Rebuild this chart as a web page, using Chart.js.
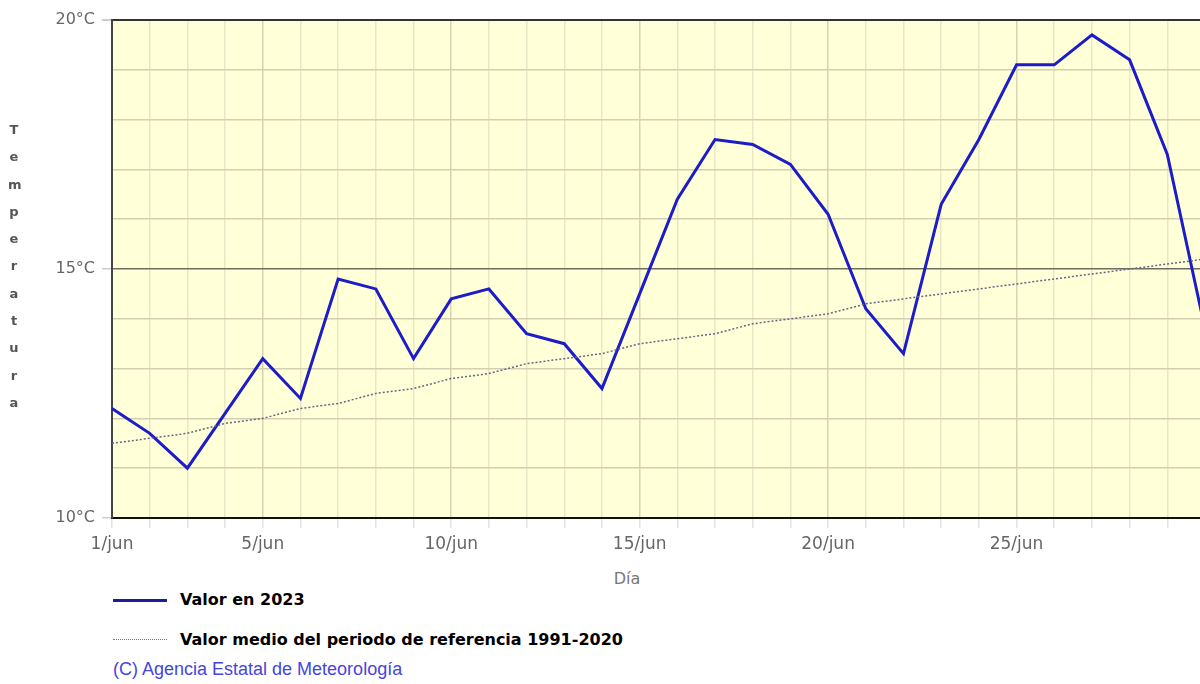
<!doctype html>
<html lang="es">
<head>
  <meta charset="utf-8">
  <title>Temperatura junio 2023</title>
  <script src="https://cdn.jsdelivr.net/npm/chart.js@4"></script>
  <style>
    html, body { margin: 0; padding: 0; background: #fff; overflow: hidden; }
    body { width: 1200px; height: 684px; position: relative; }
    #wrap { position: absolute; left: 0; top: 0; width: 1235px; height: 560px; }
    .ytitle {
      position: absolute; left: 8px; top: 116px; width: 12px;
      font: bold 13px "DejaVu Sans", sans-serif; color: #555;
      line-height: 27.3px; text-align: center; word-break: break-all;
    }
    .xtitle {
      position: absolute; left: 597px; width: 60px; top: 569px; text-align: center;
      font: 16px "DejaVu Sans", sans-serif; color: #777;
    }
    .leg { position: absolute; left: 113px; height: 20px; }
    .leg .sample { position: absolute; left: 0; top: 9px; width: 54px; }
    .leg .txt {
      position: absolute; left: 67px; top: 0; white-space: nowrap;
      font: bold 16px "DejaVu Sans", sans-serif; color: #000; line-height: 20px;
    }
    .copy {
      position: absolute; left: 113px; top: 659px; white-space: nowrap;
      font: 18px "Liberation Sans", Arial, sans-serif; color: #4545dd;
    }
  </style>
</head>
<body>
<div id="wrap"><canvas id="chart" width="1235" height="560"></canvas></div>

<div class="ytitle">Temperatura</div>
<div class="xtitle">Día</div>

<div class="leg" style="top:590px">
  <div class="sample" style="border-top:3px solid #1c1c9c"></div>
  <div class="txt">Valor en 2023</div>
</div>
<div class="leg" style="top:630px">
  <div class="sample" style="border-top:1px dotted #6a6ad8"></div>
  <div class="txt">Valor medio del periodo de referencia 1991-2020</div>
</div>
<div class="copy">(C) Agencia Estatal de Meteorología</div>

<script>
  // días de junio
  const days = [1, 2, 3, 4, 5, 6, 7, 8, 9, 10, 11, 12, 13, 14, 15,
                16, 17, 18, 19, 20, 21, 22, 23, 24, 25, 26, 27, 28, 29, 30]

  // temperatura media diaria 2023 (°C)
  const temp2023 = [12.2, 11.7, 11.0, 12.1, 13.2, 12.4, 14.8, 14.6, 13.2, 14.4,
                    14.6, 13.7, 13.5, 12.6, 14.5, 16.4, 17.6, 17.5, 17.1, 16.1,
                    14.2, 13.3, 16.3, 17.6, 19.1, 19.1, 19.7, 19.2, 17.3, 13.8]

  // valor medio 1991-2020 (°C)
  const tempRef = [11.5, 11.6, 11.7, 11.9, 12.0, 12.2, 12.3, 12.5, 12.6, 12.8,
                   12.9, 13.1, 13.2, 13.3, 13.5, 13.6, 13.7, 13.9, 14.0, 14.1,
                   14.3, 14.4, 14.5, 14.6, 14.7, 14.8, 14.9, 15.0, 15.1, 15.2]

  const yMin = 10, yMax = 20
  const yLabelled = [10, 15, 20]
  const xLabelled = [1, 5, 10, 15, 20, 25]

  const plotBg = {
    id: 'plotBg',
    beforeDraw(chart) {
      const { ctx, chartArea: a } = chart
      ctx.save()
      ctx.fillStyle = '#ffffd8'
      ctx.fillRect(a.left, a.top, a.right - a.left, a.bottom - a.top)
      ctx.restore()
    }
  }

  new Chart(document.getElementById('chart'), {
    type: 'line',
    data: {
      labels: days,
      datasets: [
        {
          label: 'Valor medio del periodo de referencia 1991-2020',
          data: tempRef,
          borderColor: '#66668a',
          borderWidth: 1.5,
          borderDash: [2, 2],
          pointRadius: 0,
          tension: 0,
        },
        {
          label: 'Valor en 2023',
          data: temp2023,
          borderColor: '#1c1cc8',
          borderWidth: 3,
          pointRadius: 0,
          tension: 0,
        },
      ]
    },
    options: {
      responsive: false,
      animation: false,
      layout: { padding: { top: 20, right: 30, left: 0, bottom: 0 } },
      plugins: {
        legend: { display: false },
        tooltip: { enabled: false },
      },
      scales: {
        x: {
          type: 'category',
          offset: false,
          afterFit(scale) { scale.height = 42 },
          border: { color: '#111', width: 2 },
          grid: {
            color: ctx => (days[ctx.index] % 5 === 0) ? '#d9d3b4' : '#ebe7c6',
            lineWidth: 1.5,
            tickLength: 10,
            tickColor: '#e4e4e4',
          },
          ticks: {
            autoSkip: false,
            maxRotation: 0,
            padding: 6,
            color: '#666',
            font: { family: 'DejaVu Sans', size: 17 },
            callback: function (value, index) {
              const d = days[index]
              return xLabelled.includes(d) ? d + '/jun' : ''
            }
          }
        },
        y: {
          min: yMin,
          max: yMax,
          afterFit(scale) { scale.width = 112 },
          border: { color: '#444', width: 2 },
          grid: {
            color: ctx => {
              const v = ctx.tick.value
              if (v === 20) return '#333'
              if (v === 15) return '#6e6e60'
              return '#d5cfb2'
            },
            lineWidth: ctx => ctx.tick.value === 20 ? 2 : 1.5,
            tickLength: 10,
            tickColor: ctx => yLabelled.includes(ctx.tick.value) ? '#cccccc' : 'rgba(0,0,0,0)',
          },
          ticks: {
            stepSize: 1,
            padding: 7,
            color: '#666',
            font: { family: 'DejaVu Sans', size: 16 },
            callback: v => yLabelled.includes(v) ? v + '°C' : ''
          }
        }
      }
    },
    plugins: [plotBg]
  })
</script>
</body>
</html>
